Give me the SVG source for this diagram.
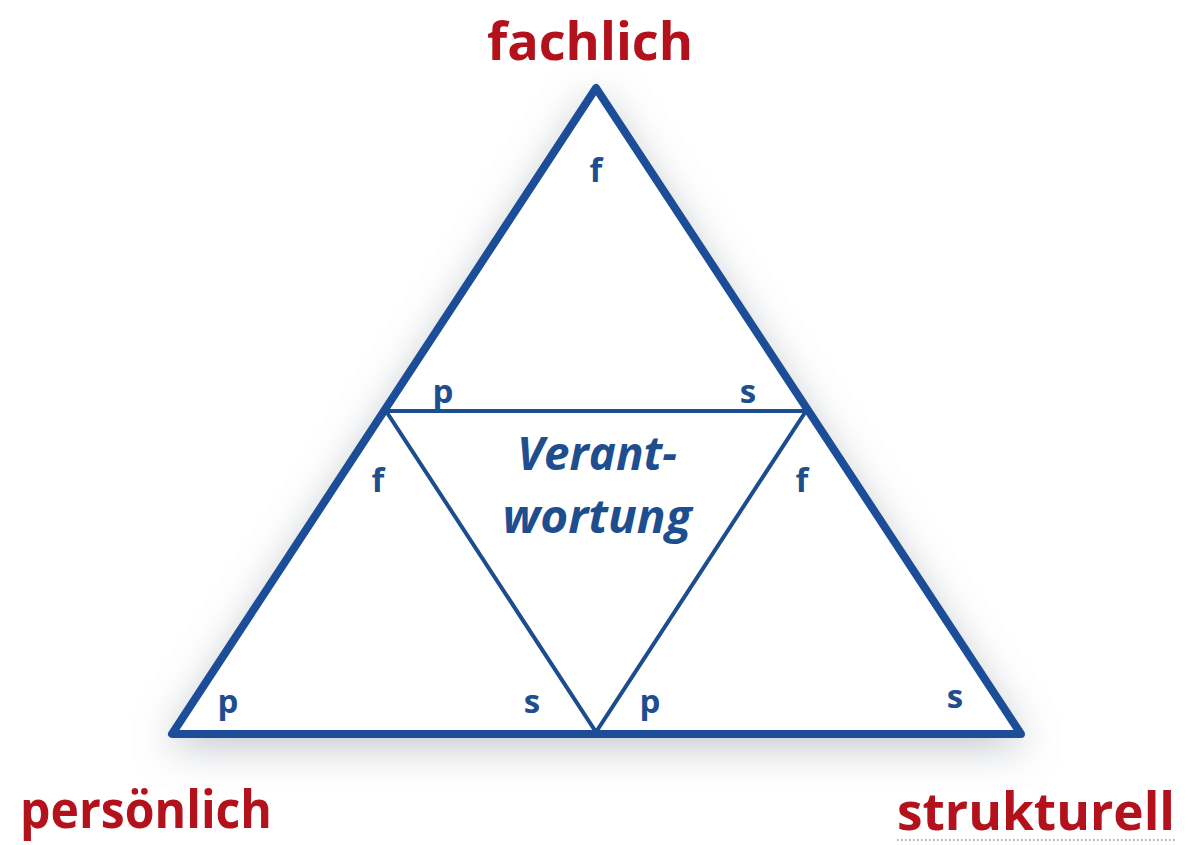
<svg xmlns="http://www.w3.org/2000/svg" width="1192" height="845" viewBox="0 0 1192 845">
<defs>
<filter id="glow" x="-20%" y="-20%" width="140%" height="150%">
<feGaussianBlur in="SourceAlpha" stdDeviation="20" result="b"/>
<feOffset in="b" dx="0" dy="10" result="o"/>
<feFlood flood-color="#8a919c" flood-opacity="0.5"/>
<feComposite in2="o" operator="in" result="s"/>
<feMerge><feMergeNode in="s"/><feMergeNode in="SourceGraphic"/></feMerge>
</filter>
<style>
.lbl{font-family:"Open Sans","Liberation Sans",sans-serif;font-weight:bold;fill:#b3111c;font-size:52px;}
.sm{font-family:"Open Sans","Liberation Sans",sans-serif;font-weight:bold;fill:#1f4e8f;font-size:33px;text-anchor:middle;}
.ctr{font-family:"Open Sans","Liberation Sans",sans-serif;font-weight:bold;font-style:italic;fill:#1f4e8f;font-size:46px;text-anchor:middle;}
.outer{fill:#ffffff;stroke:#1c4d99;stroke-width:8;stroke-linejoin:round;}
.inner{fill:none;stroke:#1c4d8f;stroke-width:4;stroke-linejoin:miter;}
</style>
</defs>
<rect width="1192" height="845" fill="#ffffff"/>
<g id="outer-triangle">
<polygon class="outer" points="596,88 172,734 1021,734" filter="url(#glow)"/>
</g>
<g id="connectors">
<polygon class="inner" points="386,411 806,411 596,732"/>
</g>
<g id="labels">
<text id="fachlich" class="lbl" x="487" y="60" textLength="206" lengthAdjust="spacingAndGlyphs">fachlich</text>
<text id="persoenlich" class="lbl" x="20" y="828" textLength="252" lengthAdjust="spacingAndGlyphs">persönlich</text>
<text id="strukturell" class="lbl" x="897" y="830" textLength="278" lengthAdjust="spacingAndGlyphs">strukturell</text>
<line x1="897" y1="840" x2="1175" y2="840" stroke="#8a8a8a" stroke-width="1.5" stroke-dasharray="1.5,2.5"/>
</g>
<g id="center">
<text class="ctr" x="597" y="470" textLength="160" lengthAdjust="spacingAndGlyphs">Verant-</text>
<text class="ctr" x="597" y="533" textLength="189" lengthAdjust="spacingAndGlyphs">wortung</text>
</g>
<g id="corner-letters">
<text class="sm" x="596" y="182">f</text>
<text class="sm" x="443" y="403">p</text>
<text class="sm" x="748" y="403">s</text>
<text class="sm" x="378" y="492">f</text>
<text class="sm" x="802" y="492">f</text>
<text class="sm" x="228" y="713">p</text>
<text class="sm" x="532" y="713">s</text>
<text class="sm" x="650" y="713">p</text>
<text class="sm" x="955" y="708">s</text>
</g>
</svg>
